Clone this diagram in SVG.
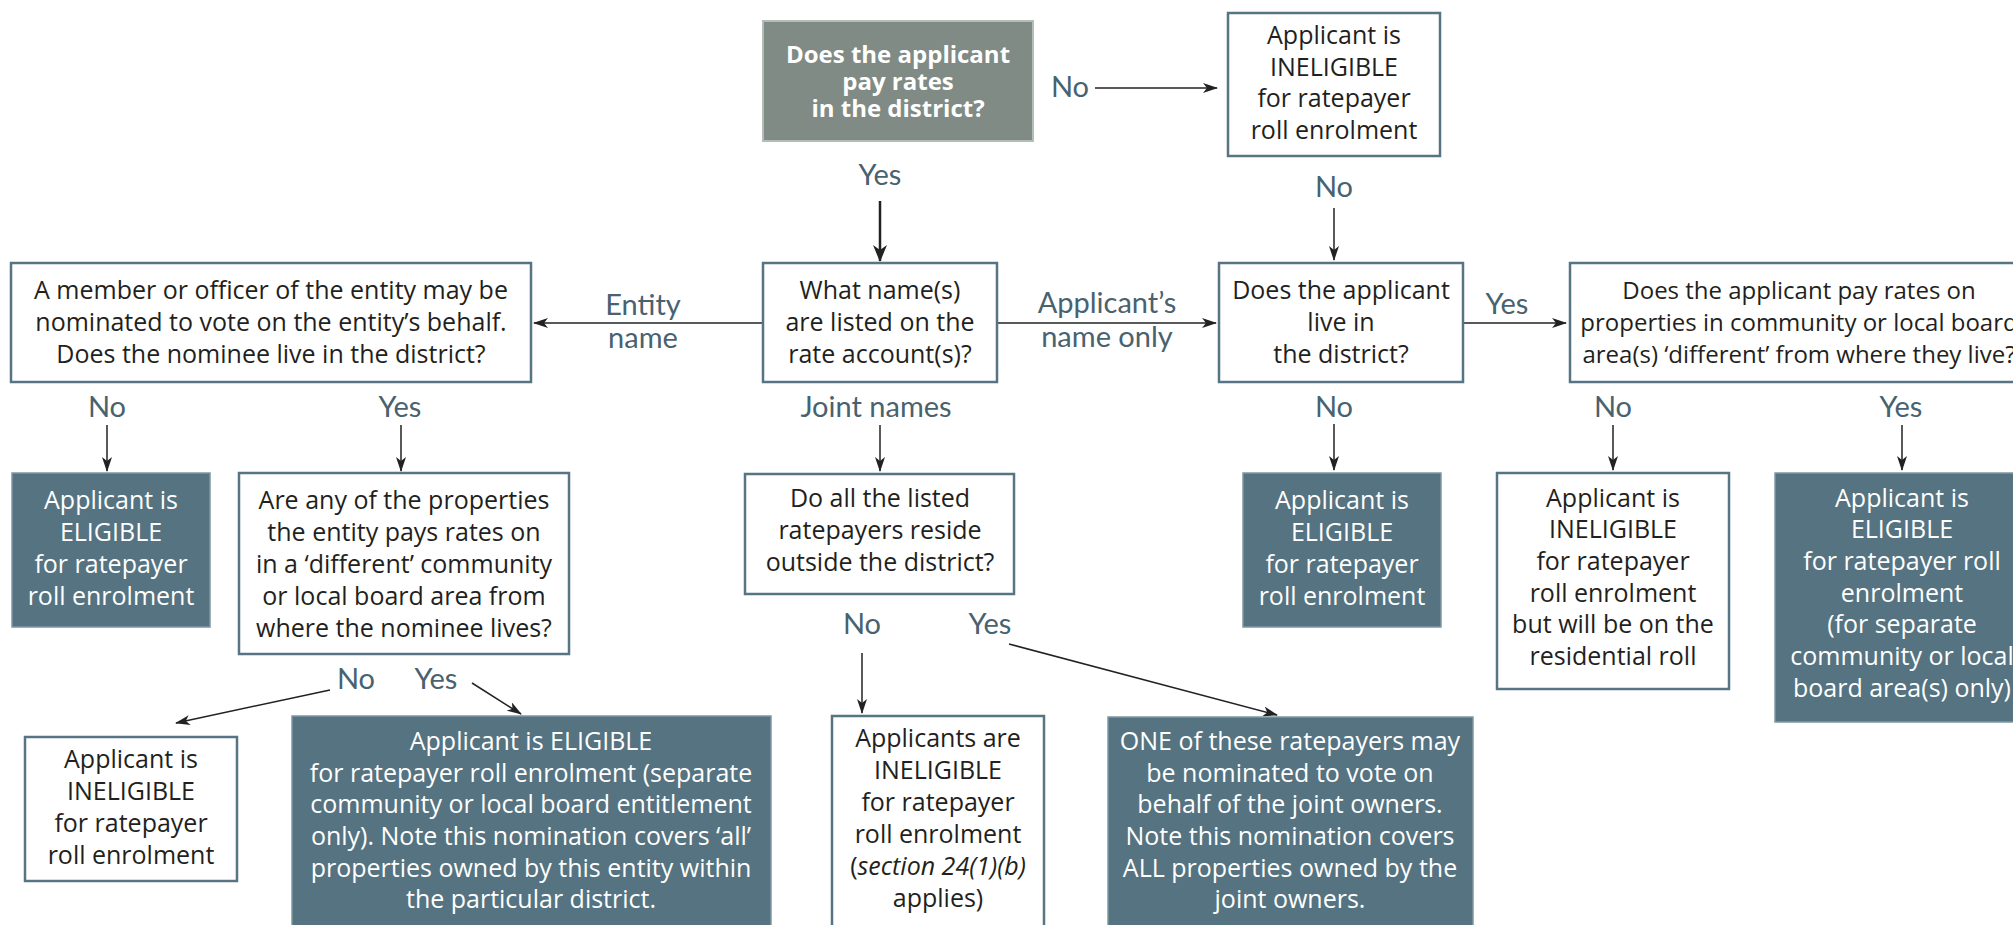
<svg xmlns="http://www.w3.org/2000/svg" width="2013" height="925" viewBox="0 0 2013 925">
<defs>
<style>
.box{fill:#ffffff;stroke:#567483;stroke-width:2.5}
.dark{fill:#557380;stroke:#7f97a3;stroke-width:1.5}
.top{fill:#808b85;stroke:#b3beb8;stroke-width:2}
.t{font-family:"Open Sans","Noto Sans","Liberation Sans",sans-serif;font-size:25px;fill:#231f20;text-anchor:middle}
.s{font-size:24px}
.w{fill:#ffffff}
.b{font-weight:bold;font-size:24px}
.lab{font-family:Lato,"Open Sans","Liberation Sans",sans-serif;font-size:29px;font-weight:400;fill:#48626f;text-anchor:middle}
.c{stroke:#222222;stroke-width:1.5;fill:none;marker-end:url(#ah)}
.ck{stroke:#222222;stroke-width:2.5;fill:none;marker-end:url(#ahk)}
</style>
<marker id="ah" markerUnits="userSpaceOnUse" markerWidth="16" markerHeight="10" refX="14" refY="5" orient="auto">
<path d="M0,0 L15,5 L0,10 L4,5 z" fill="#222222"/>
</marker>
<marker id="ahk" markerUnits="userSpaceOnUse" markerWidth="18" markerHeight="14" refX="16" refY="7" orient="auto">
<path d="M0,0 L17,7 L0,14 L5,7 z" fill="#222222"/>
</marker>
</defs>
<rect width="2013" height="925" fill="#ffffff"/>

<g id="connectors">
<line class="c" x1="1095" y1="88" x2="1217" y2="88"/>
<line class="ck" x1="880" y1="201" x2="880" y2="261"/>
<line class="c" x1="1334" y1="208" x2="1334" y2="260"/>
<line class="c" x1="763" y1="323" x2="534" y2="323"/>
<line class="c" x1="997" y1="323" x2="1216" y2="323"/>
<line class="c" x1="1463" y1="323" x2="1566" y2="323"/>
<line class="c" x1="107" y1="425" x2="107" y2="471"/>
<line class="c" x1="401" y1="425" x2="401" y2="471"/>
<line class="c" x1="880" y1="425" x2="880" y2="471"/>
<line class="c" x1="1334" y1="424" x2="1334" y2="470"/>
<line class="c" x1="1613" y1="425" x2="1613" y2="470"/>
<line class="c" x1="1902" y1="425" x2="1902" y2="470"/>
<line class="c" x1="330" y1="690" x2="176" y2="723"/>
<line class="c" x1="472" y1="683" x2="521" y2="714"/>
<line class="c" x1="862" y1="653" x2="862" y2="713"/>
<line class="c" x1="1009" y1="644" x2="1277" y2="715"/>
</g>

<g id="labels">
<text class="lab" x="1070" y="97">No</text>
<text class="lab" x="880" y="185">Yes</text>
<text class="lab" x="1334" y="197">No</text>
<text class="lab" x="643" y="315">Entity</text>
<text class="lab" x="643" y="348">name</text>
<text class="lab" x="1107" y="313">Applicant’s</text>
<text class="lab" x="1107" y="347">name only</text>
<text class="lab" x="1507" y="314">Yes</text>
<text class="lab" x="107" y="417">No</text>
<text class="lab" x="400" y="417">Yes</text>
<text class="lab" x="876" y="417">Joint names</text>
<text class="lab" x="1334" y="417">No</text>
<text class="lab" x="1613" y="417">No</text>
<text class="lab" x="1901" y="417">Yes</text>
<text class="lab" x="356" y="689">No</text>
<text class="lab" x="436" y="689">Yes</text>
<text class="lab" x="862" y="634">No</text>
<text class="lab" x="990" y="634">Yes</text>
</g>

<g id="q-pay-rates">
<rect class="top" x="763" y="21" width="270" height="120"/>
<text class="t w b" x="898" y="63">Does the applicant<tspan x="898" dy="27">pay rates</tspan><tspan x="898" dy="27">in the district?</tspan></text>
</g>

<g id="r-ineligible-top">
<rect class="box" x="1228" y="13" width="212" height="143"/>
<text class="t" x="1334" y="44">Applicant is</text>
<text class="t" x="1334" y="76">INELIGIBLE</text>
<text class="t" x="1334" y="107">for ratepayer</text>
<text class="t" x="1334" y="139">roll enrolment</text>
</g>

<g id="q-entity-nominee">
<rect class="box" x="11" y="263" width="520" height="119"/>
<text class="t" x="271" y="299">A member or officer of the entity may be</text>
<text class="t" x="271" y="331">nominated to vote on the entity’s behalf.</text>
<text class="t" x="271" y="363">Does the nominee live in the district?</text>
</g>

<g id="q-names">
<rect class="box" x="763" y="263" width="234" height="119"/>
<text class="t" x="880" y="299">What name(s)</text>
<text class="t" x="880" y="331">are listed on the</text>
<text class="t" x="880" y="363">rate account(s)?</text>
</g>

<g id="q-live">
<rect class="box" x="1219" y="263" width="244" height="119"/>
<text class="t" x="1341" y="299">Does the applicant</text>
<text class="t" x="1341" y="331">live in</text>
<text class="t" x="1341" y="363">the district?</text>
</g>

<g id="q-different-area">
<rect class="box" x="1570" y="263" width="460" height="119"/>
<text class="t s" x="1799" y="299">Does the applicant pay rates on</text>
<text class="t s" x="1799" y="331">properties in community or local board</text>
<text class="t s" x="1799" y="363">area(s) ‘different’ from where they live?</text>
</g>

<g id="r-eligible-nominee">
<rect class="dark" x="12" y="473" width="198" height="154"/>
<text class="t w" x="111" y="509">Applicant is</text>
<text class="t w" x="111" y="541">ELIGIBLE</text>
<text class="t w" x="111" y="573">for ratepayer</text>
<text class="t w" x="111" y="605">roll enrolment</text>
</g>

<g id="q-entity-different">
<rect class="box" x="239" y="473" width="330" height="181"/>
<text class="t" x="404" y="509">Are any of the properties</text>
<text class="t" x="404" y="541">the entity pays rates on</text>
<text class="t" x="404" y="573">in a ‘different’ community</text>
<text class="t" x="404" y="605">or local board area from</text>
<text class="t" x="404" y="637">where the nominee lives?</text>
</g>

<g id="q-joint-outside">
<rect class="box" x="745" y="474" width="269" height="120"/>
<text class="t" x="880" y="507">Do all the listed</text>
<text class="t" x="880" y="539">ratepayers reside</text>
<text class="t" x="880" y="571">outside the district?</text>
</g>

<g id="r-eligible-live">
<rect class="dark" x="1243" y="473" width="198" height="154"/>
<text class="t w" x="1342" y="509">Applicant is</text>
<text class="t w" x="1342" y="541">ELIGIBLE</text>
<text class="t w" x="1342" y="573">for ratepayer</text>
<text class="t w" x="1342" y="605">roll enrolment</text>
</g>

<g id="r-ineligible-residential">
<rect class="box" x="1497" y="473" width="232" height="216"/>
<text class="t" x="1613" y="507">Applicant is</text>
<text class="t" x="1613" y="538">INELIGIBLE</text>
<text class="t" x="1613" y="570">for ratepayer</text>
<text class="t" x="1613" y="602">roll enrolment</text>
<text class="t" x="1613" y="633">but will be on the</text>
<text class="t" x="1613" y="665">residential roll</text>
</g>

<g id="r-eligible-separate">
<rect class="dark" x="1775" y="473" width="254" height="249"/>
<text class="t w" x="1902" y="507">Applicant is</text>
<text class="t w" x="1902" y="538">ELIGIBLE</text>
<text class="t w" x="1902" y="570">for ratepayer roll</text>
<text class="t w" x="1902" y="602">enrolment</text>
<text class="t w" x="1902" y="633">(for separate</text>
<text class="t w" x="1902" y="665">community or local</text>
<text class="t w" x="1902" y="697">board area(s) only)</text>
</g>

<g id="r-ineligible-entity">
<rect class="box" x="25" y="737" width="212" height="144"/>
<text class="t" x="131" y="768">Applicant is</text>
<text class="t" x="131" y="800">INELIGIBLE</text>
<text class="t" x="131" y="832">for ratepayer</text>
<text class="t" x="131" y="864">roll enrolment</text>
</g>

<g id="r-eligible-entity">
<rect class="dark" x="292" y="716" width="479" height="215"/>
<text class="t w" x="531" y="750">Applicant is ELIGIBLE</text>
<text class="t w" x="531" y="782">for ratepayer roll enrolment (separate</text>
<text class="t w" x="531" y="813">community or local board entitlement</text>
<text class="t w" x="531" y="845">only). Note this nomination covers ‘all’</text>
<text class="t w" x="531" y="877">properties owned by this entity within</text>
<text class="t w" x="531" y="908">the particular district.</text>
</g>

<g id="r-ineligible-joint">
<rect class="box" x="832" y="716" width="212" height="215"/>
<text class="t" x="938" y="747">Applicants are</text>
<text class="t" x="938" y="779">INELIGIBLE</text>
<text class="t" x="938" y="811">for ratepayer</text>
<text class="t" x="938" y="843">roll enrolment</text>
<text class="t" x="938" y="875">(<tspan font-style="italic">section 24(1)(b)</tspan></text>
<text class="t" x="938" y="907">applies)</text>
</g>

<g id="r-joint-nominee">
<rect class="dark" x="1108" y="717" width="365" height="214"/>
<text class="t w" x="1290" y="750">ONE of these ratepayers may</text>
<text class="t w" x="1290" y="782">be nominated to vote on</text>
<text class="t w" x="1290" y="813">behalf of the joint owners.</text>
<text class="t w" x="1290" y="845">Note this nomination covers</text>
<text class="t w" x="1290" y="877">ALL properties owned by the</text>
<text class="t w" x="1290" y="908">joint owners.</text>
</g>
</svg>
